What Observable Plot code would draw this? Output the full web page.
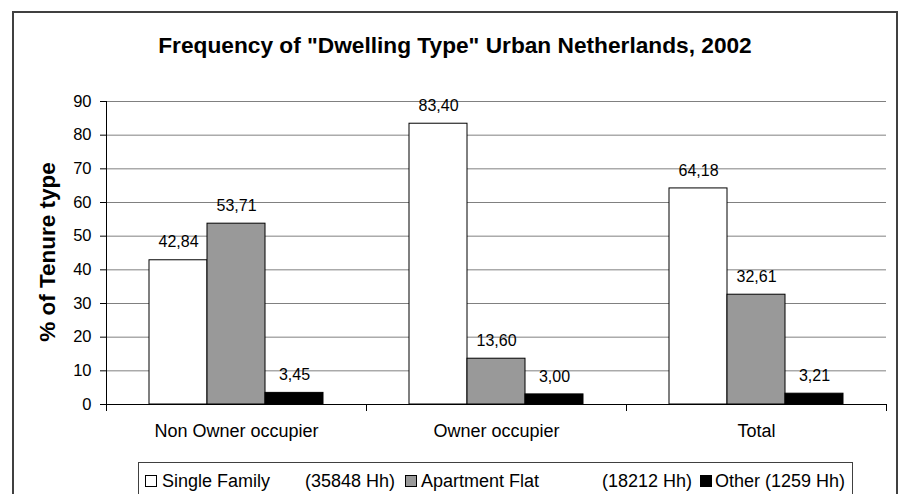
<!DOCTYPE html>
<html>
<head>
<meta charset="utf-8">
<script src="https://cdn.jsdelivr.net/npm/d3@7"></script>
<script src="https://cdn.jsdelivr.net/npm/@observablehq/plot@0.6"></script>
<style>
  html, body { margin: 0; padding: 0; background: #fff; }
  body { width: 901px; height: 494px; position: relative; overflow: hidden;
         font-family: "Liberation Sans", Arial, sans-serif; color: #000; }
  #frame { position: absolute; left: 12px; top: 11px; width: 886px; height: 530px;
           box-sizing: border-box; border: 2px solid #404040; }
  #title { position: absolute; left: 12px; width: 886px; top: 34px; text-align: center;
           font-weight: bold; font-size: 22.7px; line-height: 1; white-space: nowrap; }
  #ylabel { position: absolute; left: 48px; top: 252px; transform: translate(-50%, -50%) rotate(-90deg);
            font-weight: bold; font-size: 22.5px; white-space: nowrap; line-height: 1; }
  #chart { position: absolute; left: 0; top: 60px; }
  #legend { position: absolute; left: 138px; top: 462px; width: 715px; height: 40px;
            box-sizing: border-box; border: 1px solid #404040; background: #fff; }
  .lg { position: absolute; font-size: 18px; line-height: 18px; white-space: nowrap; top: 9px; }
  .sw { position: absolute; width: 12px; height: 12px; box-sizing: border-box; border: 1px solid #000; top: 12px; }
</style>
</head>
<body>
<div id="frame"></div>
<div id="title"></div>
<div id="ylabel"></div>
<div id="chart"></div>
<div id="legend"></div>
<script>
// ---- data ----
const title = 'Frequency of "Dwelling Type" Urban Netherlands, 2002';
const yLabel = "% of Tenure type";
const categories = ["Non Owner occupier", "Owner occupier", "Total"];
const series = ["Single Family", "Apartment Flat", "Other"];
const seriesCounts = ["(35848 Hh)", "(18212 Hh)", "(1259 Hh)"];
const seriesColors = ["#ffffff", "#999999", "#000000"];
const singleFamily = [42.84, 83.40, 64.18];
const apartmentFlat = [53.71, 13.60, 32.61];
const other = [3.45, 3.00, 3.21];
const yTicks = [0, 10, 20, 30, 40, 50, 60, 70, 80, 90];

const valuesBySeries = [singleFamily, apartmentFlat, other];
const rows = [];
categories.forEach((c, i) => {
  series.forEach((s, j) => rows.push({category: c, series: s, value: valuesBySeries[j][i]}));
});
const fmt = v => d3.format(".2f")(v).replace(".", ",");

document.getElementById("title").textContent = title;
document.getElementById("ylabel").textContent = yLabel;

const chart = Plot.plot({
  width: 901,
  height: 390,
  marginTop: 41,
  marginBottom: 46,
  marginLeft: 106,
  marginRight: 15,
  style: {fontFamily: '"Liberation Sans", Arial, sans-serif', fontSize: "16px", color: "#000", background: "transparent"},
  fx: {domain: categories, padding: 0, label: null},
  x: {domain: series, paddingInner: 0, paddingOuter: 0.74, axis: null},
  y: {domain: [0, 90], label: null},
  color: {domain: series, range: seriesColors},
  marks: [
    Plot.gridY(yTicks.filter(t => t > 0), {stroke: "#808080", strokeOpacity: 1, strokeWidth: 1}),
    Plot.barY(rows, {fx: "category", x: "series", y: "value", fill: "series", stroke: "#000", strokeWidth: 1}),
    Plot.ruleY([0], {stroke: "#000", strokeWidth: 1}),
    Plot.frame({anchor: "left", facetAnchor: "left", stroke: "#000", strokeWidth: 1}),
    Plot.frame({anchor: "left", stroke: "#000", strokeWidth: 1, insetTop: 303, insetBottom: -6}),
    Plot.frame({anchor: "right", facetAnchor: "right", stroke: "#000", strokeWidth: 1, insetTop: 303, insetBottom: -6}),
    Plot.axisY({ticks: yTicks, tickSize: 6, tickPadding: 9, fontSize: 16.5, label: null, stroke: "#000"}),
    Plot.axisFx({anchor: "bottom", tickSize: 0, tickPadding: 20, fontSize: 18, label: null}),
    Plot.text(rows, {fx: "category", x: "series", y: "value", text: d => fmt(d.value), dy: -18, fontSize: 16, fill: "#000"})
  ]
});
document.getElementById("chart").appendChild(chart);

// legend
const legend = document.getElementById("legend");
const swatchX = [6, 266, 561];
const nameX = [23, 282, 576];
const countX = [166, 463, null];
series.forEach((s, i) => {
  const sw = document.createElement("div");
  sw.className = "sw";
  sw.style.left = swatchX[i] + "px";
  sw.style.background = seriesColors[i];
  legend.appendChild(sw);
  if (countX[i] !== null) {
    const n = document.createElement("span");
    n.className = "lg"; n.style.left = nameX[i] + "px"; n.textContent = s;
    legend.appendChild(n);
    const c = document.createElement("span");
    c.className = "lg"; c.style.left = countX[i] + "px"; c.textContent = seriesCounts[i];
    legend.appendChild(c);
  } else {
    const n = document.createElement("span");
    n.className = "lg"; n.style.left = nameX[i] + "px"; n.textContent = s + " " + seriesCounts[i];
    legend.appendChild(n);
  }
});
</script>
</body>
</html>
